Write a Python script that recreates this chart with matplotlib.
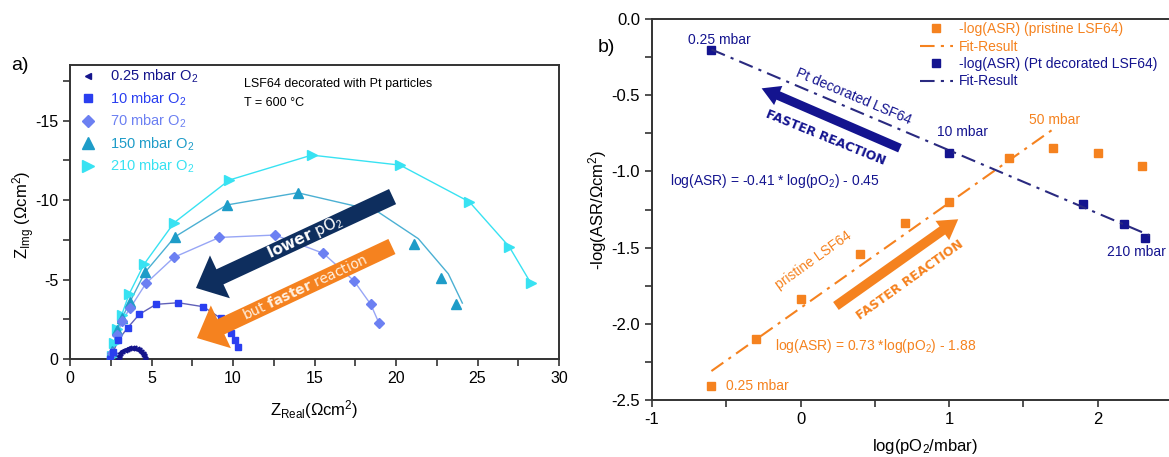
import matplotlib.pyplot as plt
from matplotlib.lines import Line2D
from matplotlib.ticker import MultipleLocator

plt.rcParams['font.family'] = ['Liberation Sans', 'DejaVu Sans']
plt.rcParams['mathtext.fontset'] = 'custom'
plt.rcParams['mathtext.rm'] = 'Liberation Sans'
plt.rcParams['mathtext.it'] = 'Liberation Sans:italic'
plt.rcParams['mathtext.bf'] = 'DejaVu Sans:bold'
plt.rcParams['axes.unicode_minus'] = False

# ---------------- a) impedance spectra, Z in Ohm cm^2 ----------------
p025_re = [2.96, 3.0, 3.08, 3.2, 3.35, 3.5, 3.65, 3.8, 3.95, 4.1, 4.25, 4.38, 4.48, 4.55, 4.6]
p025_im = [0, -0.22, -0.36, -0.49, -0.58, -0.64, -0.67, -0.68, -0.67, -0.63, -0.56, -0.45, -0.33, -0.2, -0.02]

p10_re = [2.45, 2.66, 2.96, 3.54, 4.25, 5.28, 6.64, 8.18, 9.25, 9.86, 10.12, 10.29]
p10_im = [0, -0.46, -1.19, -1.97, -2.81, -3.44, -3.54, -3.29, -2.56, -1.65, -1.19, -0.77]

p70_re = [2.6, 2.9, 3.2, 3.68, 4.66, 6.38, 9.16, 12.58, 15.54, 17.42, 18.45, 18.96]
p70_im = [-0.4, -1.5, -2.4, -3.19, -4.76, -6.40, -7.65, -7.80, -6.65, -4.92, -3.44, -2.25]

p150_re = [2.6, 2.9, 3.2, 3.68, 4.60, 6.44, 9.61, 13.97, 21.10, 22.74, 23.66]
p150_im = [-0.5, -1.8, -2.6, -3.60, -5.45, -7.69, -9.69, -10.46, -7.21, -5.11, -3.46]
p150_fit_re = [2.6, 2.9, 3.2, 3.68, 4.60, 6.44, 9.61, 13.97, 18.82, 21.37, 23.21, 24.07]
p150_fit_im = [-0.5, -1.8, -2.6, -3.60, -5.45, -7.69, -9.69, -10.46, -9.31, -7.57, -5.36, -3.52]

p210_re = [2.55, 2.7, 2.9, 3.17, 3.62, 4.54, 6.38, 9.77, 14.83, 20.25, 24.5, 26.95, 28.28]
p210_im = [-0.2, -1.0, -1.9, -2.77, -4.07, -5.96, -8.57, -11.26, -12.83, -12.20, -9.89, -7.06, -4.76]

labels_a = [r'0.25 mbar O$_2$', r'10 mbar O$_2$', r'70 mbar O$_2$',
            r'150 mbar O$_2$', r'210 mbar O$_2$']

# ---------------- b) -log(ASR) vs log(pO2) ----------------
pristine_logp = [-0.60, -0.30, 0.0, 0.40, 0.70, 1.0, 1.40, 1.70, 2.0, 2.30]
pristine_asr = [-2.41, -2.10, -1.84, -1.54, -1.34, -1.20, -0.91, -0.845, -0.877, -0.965]
pristine_fit_x = [-0.60, 1.69]
pristine_fit_y = [-2.31, -0.73]

pt_logp = [-0.60, 1.0, 1.90, 2.18, 2.32]
pt_asr = [-0.203, -0.88, -1.214, -1.347, -1.439]
pt_fit_x = [-0.60, 2.35]
pt_fit_y = [-0.20, -1.42]

c_p025 = '#14148c'
c_p10 = '#2a3ff0'
c_p70 = '#6c80f2'
c_p150 = '#1e9cc8'
c_p210 = '#38e2f2'
c_navy_arrow = '#0e2e5e'
c_orange = '#f5821f'
c_blue = '#14148f'
c_spine = '#333333'

W, H = 1169, 457
fig = plt.figure(figsize=(W / 100, H / 100), dpi=100)


def add_ax(l, t, r, b):
    return fig.add_axes([l / W, 1 - b / H, (r - l) / W, (b - t) / H])


def style_ax(ax, size):
    for s in ax.spines.values():
        s.set_linewidth(1.4)
        s.set_color(c_spine)
    ax.tick_params(which='both', direction='out', length=5, width=1.2, color=c_spine,
                   labelsize=size, top=False, right=False)


# ======================= panel a =======================
ax1 = add_ax(70, 65, 559, 359)
ax1.set_xlim(0, 30)
ax1.set_ylim(0, -18.5)
ax1.xaxis.set_major_locator(MultipleLocator(5))
ax1.xaxis.set_minor_locator(MultipleLocator(2.5))
ax1.yaxis.set_major_locator(MultipleLocator(5))
ax1.yaxis.set_minor_locator(MultipleLocator(2.5))
style_ax(ax1, 11.5)

ax1.plot(p210_re, p210_im, '-', color=c_p210, lw=1, zorder=2)
ax1.plot(p150_fit_re, p150_fit_im, '-', color=c_p150, lw=1, alpha=0.8, zorder=2)
ax1.plot(p70_re, p70_im, '-', color=c_p70, lw=1, alpha=0.7, zorder=2)
ax1.plot(p10_re, p10_im, '-', color='#3a3aa8', lw=1, alpha=0.8, zorder=2)
ax1.plot(p025_re, p025_im, '-', color=c_p025, lw=1.2, zorder=2)

ax1.plot(p210_re, p210_im, ls='none', marker='>', ms=7, color=c_p210, zorder=3)
ax1.plot(p150_re, p150_im, ls='none', marker='^', ms=7, color=c_p150, zorder=3)
ax1.plot(p70_re, p70_im, ls='none', marker='D', ms=5.5, color=c_p70, zorder=3)
ax1.plot(p10_re, p10_im, ls='none', marker='s', ms=5, color=c_p10, zorder=3)
ax1.plot(p025_re, p025_im, ls='none', marker='<', ms=3.5, color=c_p025, zorder=3)

cols_a = [c_p025, c_p10, c_p70, c_p150, c_p210]
handles = [Line2D([], [], ls='none', marker=m, ms=s, color=c)
           for m, s, c in zip(['<', 's', 'D', '^', '>'], [4, 6, 6, 8, 8], cols_a)]
ax1.legend(handles, labels_a, loc='upper left', bbox_to_anchor=(0.0225, 0.99), frameon=False,
           fontsize=10.5, handlelength=1, handletextpad=1.0, labelspacing=0.35,
           borderaxespad=0, borderpad=0, labelcolor=cols_a)

ax1.text(10.7, -17.3, 'LSF64 decorated with Pt particles', fontsize=9, va='center')
ax1.text(10.7, -16.1, 'T = 600 °C', fontsize=9, va='center')

# arrows
ax1.annotate('', xy=(7.73, -4.47), xytext=(19.79, -10.22),
             arrowprops=dict(arrowstyle='simple,head_length=19,head_width=34,tail_width=12',
                             mutation_scale=1, color=c_navy_arrow, lw=0, shrinkA=0, shrinkB=0),
             zorder=4)
ax1.annotate('', xy=(7.79, -1.32), xytext=(19.75, -7.08),
             arrowprops=dict(arrowstyle='simple,head_length=19,head_width=34,tail_width=12',
                             mutation_scale=1, color=c_orange, lw=0, shrinkA=0, shrinkB=0),
             zorder=4)
ax1.text(14.4, -7.65, r'$\mathbf{lower}$ pO$_2$', family='DejaVu Sans', color='white',
         fontsize=11, rotation=25, rotation_mode='anchor', ha='center', va='center', zorder=5)
ax1.text(14.4, -4.5, r'but $\mathbf{faster}$ reaction', family='DejaVu Sans', color='#fff0e0',
         fontsize=10, rotation=25, rotation_mode='anchor', ha='center', va='center', zorder=5)

fig.text(314 / W, 1 - 410 / H, r'Z$_{\rm Real}$(Ωcm$^2$)', fontsize=12, ha='center', va='center')
fig.text(24 / W, 1 - 215 / H, r'Z$_{\rm Img}$ (Ωcm$^2$)', fontsize=12, ha='center', va='center',
         rotation=90)
fig.text(20 / W, 1 - 66 / H, 'a)', fontsize=14, ha='center', va='center')

# ======================= panel b =======================
ax2 = add_ax(652, 19, 1172, 400)
ax2.set_xlim(-1, 2.5)
ax2.set_ylim(-2.5, 0)
ax2.xaxis.set_major_locator(MultipleLocator(1))
ax2.xaxis.set_minor_locator(MultipleLocator(0.5))
ax2.yaxis.set_major_locator(MultipleLocator(0.5))
ax2.yaxis.set_minor_locator(MultipleLocator(0.25))
ax2.yaxis.set_major_formatter(lambda v, p: f'{v:.1f}')
style_ax(ax2, 12)

dashdot = (0, (7, 3, 1.5, 3))
ax2.plot(pristine_logp, pristine_asr, ls='none', marker='s', ms=6, color=c_orange,
         label='-log(ASR) (pristine LSF64)')
ax2.plot(pristine_fit_x, pristine_fit_y, ls=dashdot, lw=1.5, color=c_orange, label='Fit-Result')
ax2.plot(pt_logp, pt_asr, ls='none', marker='s', ms=6, color=c_blue,
         label='-log(ASR) (Pt decorated LSF64)')
ax2.plot(pt_fit_x, pt_fit_y, ls=dashdot, lw=1.5, color='#2a2a80', label='Fit-Result')
ax2.legend(loc='upper left', bbox_to_anchor=(0.515, 0.992), frameon=False, fontsize=10,
           handlelength=2.4, handletextpad=0.4, labelspacing=0.25, borderaxespad=0, borderpad=0,
           labelcolor=[c_orange, c_orange, c_blue, c_blue])

ax2.text(-0.545, -0.14, '0.25 mbar', color=c_blue, fontsize=10, ha='center', va='center')
ax2.text(1.09, -0.74, '10 mbar', color=c_blue, fontsize=10, ha='center', va='center')
ax2.text(2.26, -1.53, '210 mbar', color=c_blue, fontsize=10, ha='center', va='center')
ax2.text(1.71, -0.66, '50 mbar', color=c_orange, fontsize=10, ha='center', va='center')
ax2.text(-0.5, -2.41, '0.25 mbar', color=c_orange, fontsize=10, ha='left', va='center')
ax2.text(0.36, -0.51, 'Pt decorated LSF64', color=c_blue, fontsize=10, rotation=-23,
         rotation_mode='anchor', ha='center', va='center')
ax2.text(0.09, -1.58, 'pristine LSF64', color=c_orange, fontsize=10, rotation=35.5,
         rotation_mode='anchor', ha='center', va='center')
ax2.text(-0.88, -1.06, r'log(ASR) = -0.41 * log(pO$_2$) - 0.45', color=c_blue, fontsize=10,
         ha='left', va='center')
ax2.text(-0.17, -2.145, r'log(ASR) = 0.73 *log(pO$_2$) - 1.88', color=c_orange, fontsize=10,
         ha='left', va='center')

ax2.annotate('', xy=(-0.262, -0.455), xytext=(0.669, -0.848),
             arrowprops=dict(arrowstyle='simple,head_length=13,head_width=15,tail_width=6.5',
                             mutation_scale=1, color=c_blue, lw=0, shrinkA=0, shrinkB=0))
ax2.annotate('', xy=(1.061, -1.314), xytext=(0.238, -1.883),
             arrowprops=dict(arrowstyle='simple,head_length=14,head_width=17,tail_width=7',
                             mutation_scale=1, color=c_orange, lw=0, shrinkA=0, shrinkB=0))
ax2.text(0.17, -0.78, 'FASTER REACTION', family='DejaVu Sans', weight='bold', color=c_blue,
         fontsize=9, rotation=-22, rotation_mode='anchor', ha='center', va='center')
ax2.text(0.74, -1.71, 'FASTER REACTION', family='DejaVu Sans', weight='bold', color=c_orange,
         fontsize=9, rotation=35.5, rotation_mode='anchor', ha='center', va='center')

fig.text(925 / W, 1 - 446 / H, r'log(pO$_2$/mbar)', fontsize=12, ha='center', va='center')
fig.text(598 / W, 1 - 210 / H, r'-log(ASR/Ωcm$^2$)', fontsize=12, ha='center', va='center',
         rotation=90)
fig.text(606 / W, 1 - 48 / H, 'b)', fontsize=14, ha='center', va='center')

fig.savefig('out.png', dpi=100)
